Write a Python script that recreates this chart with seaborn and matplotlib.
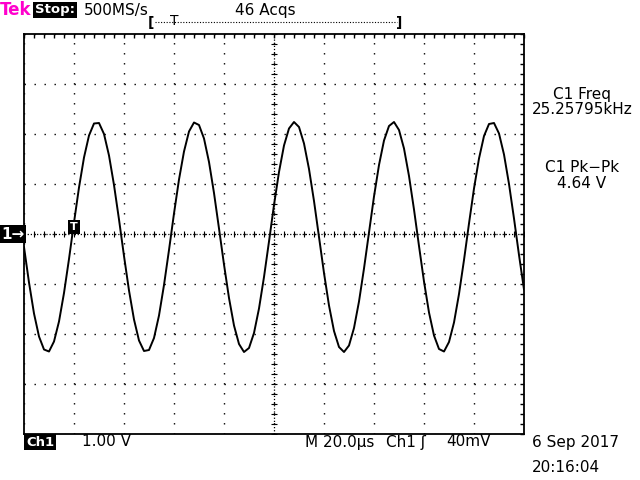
import matplotlib
matplotlib.use("Agg")
import matplotlib.pyplot as plt
import numpy as np
import pandas as pd
import seaborn as sns

# trace samples: time in us (0 = screen centre), volts
time_us = list(range(-100, 101, 2))
volts = [-0.26, -0.97, -1.59, -2.05, -2.31, -2.35, -2.15, -1.75, -1.18, -0.50,
         0.23, 0.93, 1.53, 1.97, 2.21, 2.22, 2.00, 1.57, 0.98, 0.29,
         -0.44, -1.13, -1.71, -2.13, -2.34, -2.32, -2.08, -1.63, -1.02, -0.32,
         0.41, 1.09, 1.65, 2.05, 2.23, 2.18, 1.91, 1.44, 0.82, 0.11,
         -0.61, -1.28, -1.83, -2.20, -2.36, -2.28, -1.98, -1.49, -0.86, -0.15,
         0.58, 1.24, 1.77, 2.11, 2.24, 2.14, 1.81, 1.30, 0.66, -0.06,
         -0.78, -1.43, -1.94, -2.26, -2.36, -2.23, -1.88, -1.35, -0.69, 0.03,
         0.75, 1.38, 1.87, 2.16, 2.24, 2.08, 1.71, 1.16, 0.49, -0.24,
         -0.95, -1.57, -2.03, -2.30, -2.35, -2.16, -1.77, -1.20, -0.52, 0.21,
         0.91, 1.51, 1.96, 2.20, 2.22, 2.01, 1.59, 1.00, 0.31, -0.42,
         -1.11]

volts_per_div = 1.0
us_per_div = 20.0
trigger_time = -80.0
trigger_level = 0.04

header = ["500MS/s", "46 Acqs"]
meas_labels = ["C1 Freq", "25.25795kHz", "C1 Pk\u2212Pk", "4.64 V"]
footer = ["1.00 V", "M 20.0\u00b5s", "Ch1 \u0283", "40mV"]
date_lines = ["6 Sep 2017", "20:16:04"]

sns.set_style("white")
plt.rcParams["font.family"] = ["DejaVu Sans"]
plt.rcParams["text.color"] = "black"

fig = plt.figure(figsize=(6.4, 4.8), dpi=100)
ax = fig.add_axes([24 / 640, 46 / 480, 500 / 640, 400 / 480])

df = pd.DataFrame({"t": time_us, "v": volts})
sns.lineplot(data=df, x="t", y="v", ax=ax, color="black", linewidth=1.4)

ax.set_xlim(-5 * us_per_div, 5 * us_per_div)
ax.set_ylim(-4 * volts_per_div, 4 * volts_per_div)
ax.set_xlabel("")
ax.set_ylabel("")

xmaj = np.arange(-5, 6) * us_per_div
ymaj = np.arange(-4, 5) * volts_per_div
xmin = np.arange(-5, 5.01, 0.2) * us_per_div
ymin = np.arange(-4, 4.01, 0.2) * volts_per_div
ax.set_xticks(xmaj)
ax.set_yticks(ymaj)
ax.set_xticks(xmin, minor=True)
ax.set_yticks(ymin, minor=True)
ax.tick_params(which="both", direction="in", length=3, width=1, color="black",
               top=True, right=True, labelbottom=False, labelleft=False)
ax.grid(True, which="major", color="black", linestyle=(0, (1, 6.2)), linewidth=1)

# centre cross with fine ticks
ax.axhline(0, color="black", linestyle=(0, (1, 1.5)), linewidth=0.9)
ax.axvline(0, color="black", linestyle=(0, (1, 1.5)), linewidth=0.9)
ax.plot(xmin, np.zeros_like(xmin), ls="none", marker="|", ms=4, mew=0.8, color="black")
ax.plot(np.zeros_like(ymin), ymin, ls="none", marker="_", ms=4, mew=0.8, color="black")

for s in ax.spines.values():
    s.set_color("black")
    s.set_linewidth(1.3)

# trigger marker on the trace
ax.text(trigger_time, trigger_level + 0.1, "T", color="white", fontsize=8, fontweight="bold",
        ha="center", va="center",
        bbox=dict(boxstyle="square,pad=0.15", fc="black", ec="none"))


def px_text(x, y, s, **kw):
    kw.setdefault("fontsize", 11)
    kw.setdefault("va", "center")
    fig.text(x / 640, 1 - y / 480, s, **kw)


box = dict(boxstyle="square,pad=0.12", fc="black", ec="none")

px_text(0, 10, "Tek", color="#ff00cc", fontweight="bold", fontsize=12)
px_text(35, 10, "Stop:", color="white", fontweight="bold", fontsize=9.5, bbox=box)
px_text(84, 10, header[0])
px_text(235, 10, header[1])

# record view bracket
px_text(148, 23, "[", fontsize=10, fontweight="bold")
px_text(396, 23, "]", fontsize=10, fontweight="bold")
fig.add_artist(plt.Line2D([155 / 640, 397 / 640], [1 - 22 / 480] * 2, color="black",
                          linestyle=(0, (1, 1.5)), linewidth=0.8))
px_text(174, 21, "T", fontsize=10, ha="center")

px_text(582, 95, meas_labels[0], ha="center")
px_text(582, 110, meas_labels[1], ha="center")
px_text(582, 167, meas_labels[2], ha="center")
px_text(582, 183, meas_labels[3], ha="center")

px_text(1, 234, "1\u2192", color="white", fontweight="bold", bbox=box)

px_text(26, 442, "Ch1", color="white", fontweight="bold", fontsize=9.5, bbox=box)
px_text(82, 442, footer[0])
px_text(305, 442, footer[1])
px_text(386, 442, footer[2])
px_text(446, 442, footer[3])
px_text(532, 443, date_lines[0])
px_text(532, 467, date_lines[1])

fig.savefig("out.png", dpi=100, facecolor="white")
